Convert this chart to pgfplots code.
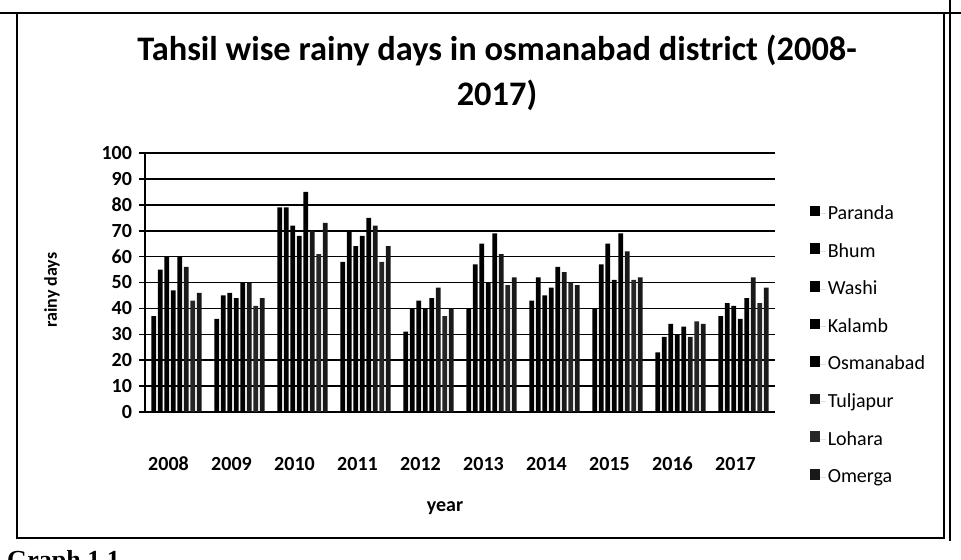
\documentclass[border=0pt]{standalone}
\usepackage{fontspec}
\setmainfont{Carlito}
\newfontfamily\seriffont{Liberation Serif}
\usepackage{pgfplots}
\usepackage{pgfplotstable}
\pgfplotsset{compat=1.18}

\pgfplotstableread{
x Paranda Bhum Washi Kalamb Osmanabad Tuljapur Lohara Omerga
0 37 55 60 47 60 56 43 46
1 36 45 46 44 50 50 41 44
2 79 79 72 68 85 70 61 73
3 58 70 64 68 75 72 58 64
4 31 40 43 40 44 48 37 40
5 40 57 65 50 69 61 49 52
6 43 52 45 48 56 54 50 49
7 40 57 65 51 69 62 51 52
8 23 29 34 30 33 29 35 34
9 37 42 41 36 44 52 42 48
}\rainy

\begin{document}
\begin{tikzpicture}[x=0.5pt,y=0.5pt]
\path[use as bounding box] (0,0) rectangle (961,559);
% frame
\draw[line width=0.9pt] (17,21) rectangle (944,546);
\draw[line width=0.9pt] (950,18) -- (950,559);
\draw[line width=1.2pt] (0,546) -- (961,546);
\node[font=\bfseries\fontsize{17.2}{22.5}\selectfont, align=center] at (497,486.5)
  {Tahsil wise rainy days in osmanabad district (2008-\\2017)};
\node[font=\bfseries\fontsize{9}{10}\selectfont, rotate=90] at (52,269) {rainy days};
\node[font=\bfseries\fontsize{10}{12}\selectfont] at (445,51) {year};
\node[font=\seriffont\bfseries\fontsize{13}{14}\selectfont, anchor=west] at (0,-3) {Graph 1.1};
\begin{axis}[
  at={(72.5pt,73.5pt)}, anchor=south west,
  scale only axis, width=315pt, height=129.5pt,
  ybar=0.85pt, bar width=2.4pt,
  xmin=-0.5, xmax=9.5, ymin=0, ymax=100,
  ytick={0,10,...,100},
  xtick={0,...,9},
  xticklabels={2008,2009,2010,2011,2012,2013,2014,2015,2016,2017},
  axis x line*=bottom, axis y line*=left,
  x axis line style={-, line width=0.9pt},
  y axis line style={-, line width=0.9pt},
  ymajorgrids, major grid style={black, line width=0.8pt},
  xtick style={draw=none},
  ytick style={black, line width=0.8pt},
  tick align=outside, major tick length=3pt,
  /pgf/number format/assume math mode=true,
  ticklabel style={font=\bfseries\fontsize{10}{12}\selectfont},
  xticklabel style={yshift=-16pt, xshift=-4pt},
  legend style={at={(1.045,0.83)}, anchor=north west, draw=none, fill=none,
    font=\fontsize{10}{12}\selectfont, row sep=6.3pt,
    nodes={inner sep=1pt, text height=8pt, text depth=2.5pt}},
  legend cell align=left,
  legend image code/.code={\fill[#1] (0pt,-1.2pt) rectangle (5.3pt,4.1pt);
    \path (5.3pt,0pt) -- (8pt,0pt);},
]
\addplot[fill=black, draw=none] table[x=x, y=Paranda] {\rainy};
\addplot[fill=black, draw=none] table[x=x, y=Bhum] {\rainy};
\addplot[fill=black, draw=none] table[x=x, y=Washi] {\rainy};
\addplot[fill=black, draw=none] table[x=x, y=Kalamb] {\rainy};
\addplot[fill=black, draw=none] table[x=x, y=Osmanabad] {\rainy};
\addplot[fill=black!90, draw=none] table[x=x, y=Tuljapur] {\rainy};
\addplot[fill=black!85, draw=none] table[x=x, y=Lohara] {\rainy};
\addplot[fill=black!90, draw=none] table[x=x, y=Omerga] {\rainy};
\legend{Paranda,Bhum,Washi,Kalamb,Osmanabad,Tuljapur,Lohara,Omerga}
\end{axis}
\end{tikzpicture}
\end{document}
